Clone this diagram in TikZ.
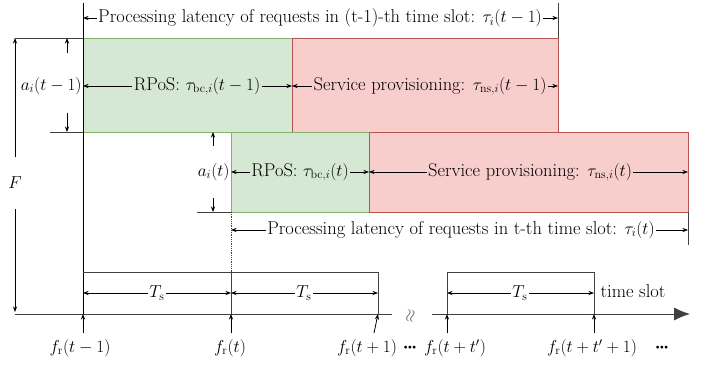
\documentclass[tikz,border=0pt]{standalone}
\usepackage{amsmath}
\usepackage{graphicx}
\usepackage{tikz}
\usetikzlibrary{arrows.meta}
\newcommand{\tdots}{\scalebox{0.75}{$\bullet\!\bullet\!\bullet$}}

\begin{document}
\begin{tikzpicture}
[x=1pt,y=-1pt,line width=0.8pt
,lb/.style={inner sep=1pt,font=\fontsize{18.5}{22}\selectfont}
,bx/.style={anchor=north west,inner sep=0pt,outer sep=0pt}
,gb/.style={bx,draw={rgb,255:red,130;green,179;blue,102},fill={rgb,255:red,213;green,232;blue,212}}
,rb/.style={bx,draw={rgb,255:red,184;green,84;blue,80},fill={rgb,255:red,248;green,206;blue,204}}
,be/.style={arrows={-Stealth[scale=0.85]}}
,gl/.style={black!75}
]
\useasboundingbox (0,0) rectangle (712,366);
\node[gb,minimum width=209pt,minimum height=94pt] (g1) at (83,38) {};
\node[rb,minimum width=266pt,minimum height=94pt] (r1) at (292,38) {};
\node[gb,minimum width=138pt,minimum height=80pt] (g2) at (231,132) {};
\node[rb,minimum width=319pt,minimum height=80pt] (r2) at (369,132) {};
\coordinate (top0) at (83,3);
\coordinate (top1) at (558,3);
\coordinate (t0) at (83,314);
\coordinate (t1) at (231,314);
\coordinate (t2) at (378,314);
\coordinate (t3) at (447,314);
\coordinate (t4) at (594,314);
\coordinate (s0) at (83,272);
\coordinate (s1) at (231,272);
\coordinate (s2) at (378,272);
\coordinate (s3) at (447,272);
\coordinate (s4) at (594,272);
\draw (top0) -- (t0);
\draw[gl] (top1) -- (r1.north east);
\draw[gl] (r2.south east) -- ++(0,33);
\node[lb] (p1) at (320,18) {Processing latency of requests in (t-1)-th time slot: $\tau_i(t-1)$};
\draw[be] (p1) -- (top0 |- p1);
\draw[be] (p1) -- (top1 |- p1);
\node[lb] (q1) at (197,86) {RPoS: $\tau_{\mathrm{bc},i}(t-1)$};
\draw[be] (q1) -- (g1.west |- q1);
\draw[be] (q1) -- (r1.west |- q1);
\node[lb] (v1) at (430,86) {Service provisioning: $\tau_{\mathrm{ns},i}(t-1)$};
\draw[be] (v1) -- (r1.west |- v1);
\draw[be] (v1) -- (r1.east |- v1);
\node[lb] (q2) at (300,172) {RPoS: $\tau_{\mathrm{bc},i}(t)$};
\draw[be] (q2) -- (g2.west |- q2);
\draw[be] (q2) -- (r2.west |- q2);
\node[lb] (v2) at (530,172) {Service provisioning: $\tau_{\mathrm{ns},i}(t)$};
\draw[be] (v2) -- (r2.west |- v2);
\draw[be] (v2) -- (r2.east |- v2);
\node[lb] (p2) at (461,230) {Processing latency of requests in t-th time slot: $\tau_i(t)$};
\draw[be] (p2) -- (g2.south west |- p2);
\draw[be] (p2) -- (r2.south east |- p2);
\coordinate (fa) at (15,38);
\coordinate (fb) at (15,312);
\draw[gl] (fa) -- (g1.north west);
\node[lb,inner ysep=20pt] (F) at (15,183) {$F$};
\draw[be] (F) -- (fa);
\draw[be] (F) -- (fb);
\node[lb,anchor=east] (a1) at (g1.west |- q1) {$a_i(t-1)$};
\coordinate (a1u) at (67,53);
\coordinate (a1d) at (67,113);
\draw[be] (a1u) -- (a1u |- g1.north);
\draw[be] (a1d) -- (a1d |- g1.south);
\coordinate (h1) at (50,132);
\draw[gl] (h1) -- (g1.south west);
\node[lb,anchor=east] (a2) at (g2.west |- q2) {$a_i(t)$};
\coordinate (a2u) at (213,146);
\coordinate (a2d) at (213,198);
\draw[be] (a2u) -- (a2u |- g2.north);
\draw[be] (a2d) -- (a2d |- g2.south);
\coordinate (h2) at (197,212);
\draw[gl] (h2) -- (g2.south west);
\draw[gl,densely dotted] (g2.south west) -- (s1);
\draw[gl] (s0) -- (s2) -- (t2);
\draw[gl] (s1) -- (t1);
\draw[gl] (t3) -- (s3) -- (s4) -- (t4);
\node[lb] (ts1) at (157,293) {$T_\mathrm{s}$};
\draw[be] (ts1) -- (t0 |- ts1);
\draw[be] (ts1) -- (t1 |- ts1);
\node[lb] (ts2) at (304,293) {$T_\mathrm{s}$};
\draw[be] (ts2) -- (t1 |- ts2);
\draw[be] (ts2) -- (t2 |- ts2);
\node[lb] (ts3) at (520,293) {$T_\mathrm{s}$};
\draw[be] (ts3) -- (t3 |- ts3);
\draw[be] (ts3) -- (t4 |- ts3);
\node[lb] (ts) at (633,291) {time slot};
\coordinate (ax0) at (15,314);
\coordinate (ax1) at (392,314);
\coordinate (ax2) at (432,314);
\coordinate (ax3) at (690,314);
\draw[gl] (ax0) -- (ax1);
\draw[gl,-{Latex[length=16pt,width=13pt]}] (ax2) -- (ax3);
\node[lb,black!60] (brk) at (411,316) {\rotatebox{80}{$\approx$}};
\coordinate (u0) at (83,333);
\coordinate (u1) at (231,333);
\coordinate (u2) at (374,333);
\coordinate (u3) at (447,333);
\coordinate (u4) at (594,333);
\draw[be] (u0) -- (t0);
\draw[be] (u1) -- (t1);
\draw[be] (u2) -- (t2);
\draw[be] (u3) -- (t3);
\draw[be] (u4) -- (t4);
\node[lb] (f0) at (80,348) {$f_\mathrm{r}(t-1)$};
\node[lb] (f1) at (230,348) {$f_\mathrm{r}(t)$};
\node[lb] (f2) at (367,348) {$f_\mathrm{r}(t+1)$};
\node[lb] (f3) at (455,348) {$f_\mathrm{r}(t+t')$};
\node[lb] (f4) at (592,348) {$f_\mathrm{r}(t+t'+1)$};
\node (d1) at (410,348) {\tdots};
\node (d2) at (662,348) {\tdots};
\end{tikzpicture}
\end{document}
